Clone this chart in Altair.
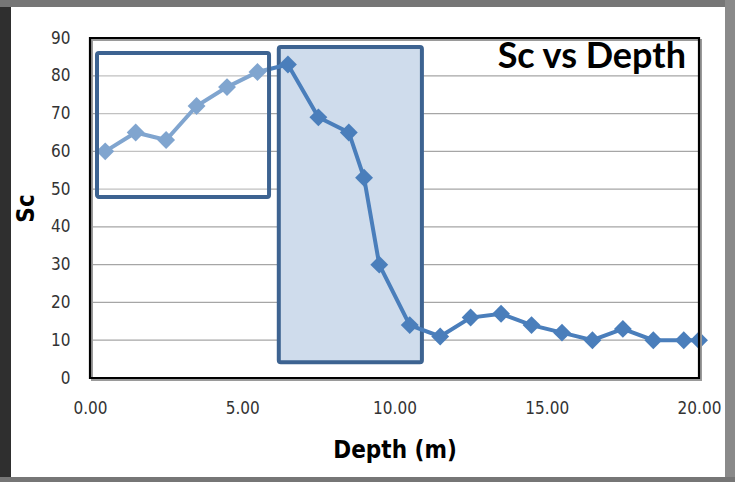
import altair as alt
import pandas as pd

depth = [0.5, 1.5, 2.5, 3.5, 4.5, 5.5, 6.5, 7.5, 8.5, 9.0, 9.5, 10.5,
         11.5, 12.5, 13.5, 14.5, 15.5, 16.5, 17.5, 18.5, 19.5, 20.0]
sc = [60, 65, 63, 72, 77, 81, 83, 69, 65, 53, 30, 14,
      11, 16, 17, 14, 12, 10, 13, 10, 10, 10]
grid_values = [10, 20, 30, 40, 50, 60, 70, 80]
x_ticks = [0, 5, 10, 15, 20]
y_ticks = [0, 10, 20, 30, 40, 50, 60, 70, 80, 90]
box1 = {"x": 0.23, "x2": 5.88, "y": 47.9, "y2": 86.0}
box2 = {"x": 6.2, "x2": 10.9, "y": 4.2, "y2": 87.6}

df = pd.DataFrame({"depth": depth, "sc": sc})
gdf = pd.DataFrame({"g": grid_values})
b1 = pd.DataFrame([box1])
b2 = pd.DataFrame([box2])

NARROW = "Liberation Sans Narrow, DejaVu Sans Condensed, sans-serif"
W, H = 609, 340
one = pd.DataFrame({"a": [0]})

xs = alt.Scale(domain=[0, 20], nice=False, zero=False)
ys = alt.Scale(domain=[0, 90], nice=False)

xaxis = alt.Axis(title="Depth (m)", values=x_ticks, format=".2f", labelFlush=False,
                 grid=False, ticks=False, domain=False, labelPadding=22, titlePadding=22,
                 labelFont=NARROW, labelFontSize=17, labelColor="#333333",
                 titleFont=NARROW, titleFontSize=24, titleFontWeight="bold",
                 titleColor="black")
yaxis = alt.Axis(title="Sc", values=y_ticks, labelFlush=False,
                 grid=False, ticks=False, domain=False, labelPadding=20, titlePadding=12,
                 labelFont=NARROW, labelFontSize=17, labelColor="#333333",
                 titleFont=NARROW, titleFontSize=24, titleFontWeight="bold",
                 titleColor="black")

# gray frame strips around the white sheet (kept clear of the axes)
frame_specs = [
    ("#2f2f2f", -90, -79, -38, H + 104),   # left
    ("#767676", -90, W + 36, -38, -31),     # top
    ("#8a8a8a", 635, W + 36, -38, H + 104), # right
    ("#767676", -90, W + 36, 439, H + 104), # bottom
]
frames = [
    alt.Chart(one).mark_rect(color=c).encode(
        x=alt.value(x1), x2=alt.value(x2), y=alt.value(y1), y2=alt.value(y2))
    for c, x1, x2, y1, y2 in frame_specs
]

grid = alt.Chart(gdf).mark_rule(color="#a6a6a6", strokeWidth=1.2).encode(
    y=alt.Y("g:Q", scale=ys, axis=yaxis))

rect2 = alt.Chart(b2).mark_rect(fill="#cfdcec", stroke="#3d6391", strokeWidth=4,
                                 cornerRadius=2).encode(
    x=alt.X("x:Q", scale=xs, axis=xaxis), x2="x2:Q",
    y=alt.Y("y:Q", scale=ys, axis=yaxis), y2="y2:Q")

line = alt.Chart(df).mark_line(color="#4a7ebb", strokeWidth=4).encode(
    x=alt.X("depth:Q", scale=xs, axis=xaxis),
    y=alt.Y("sc:Q", scale=ys, axis=yaxis))
pts = alt.Chart(df).mark_point(shape="diamond", filled=True, size=320,
                               color="#4a7ebb", opacity=1).encode(
    x=alt.X("depth:Q", scale=xs, axis=xaxis), y=alt.Y("sc:Q", scale=ys, axis=yaxis))

rect1 = alt.Chart(b1).mark_rect(fill="white", fillOpacity=0.3, stroke="#3d6391",
                                strokeWidth=4, cornerRadius=2).encode(
    x=alt.X("x:Q", scale=xs, axis=xaxis), x2="x2:Q",
    y=alt.Y("y:Q", scale=ys, axis=yaxis), y2="y2:Q")

shadow = alt.Chart(one).mark_rect(fill=None, filled=False, stroke="#9a9a9a", strokeWidth=2).encode(
    x=alt.value(2), x2=alt.value(W + 2), y=alt.value(2), y2=alt.value(H + 2))
border = alt.Chart(one).mark_rect(fill=None, filled=False, stroke="black", strokeWidth=2.2).encode(
    x=alt.value(0), x2=alt.value(W), y=alt.value(0), y2=alt.value(H))

title = alt.Chart(pd.DataFrame({"t": ["Sc vs Depth"]})).mark_text(
    align="right", baseline="alphabetic", font="Lato", fontWeight="bold",
    fontSize=36, color="black").encode(
    text="t:N", x=alt.value(596), y=alt.value(30))

chart = alt.layer(*frames, grid, rect2, line, pts, rect1, shadow, border, title).properties(
    width=W, height=H,
    autosize=alt.AutoSizeParams(type="none"),
    padding={"left": 90, "top": 38, "right": 36, "bottom": 104},
    background="white",
).configure_view(stroke=None)

chart.save("out.html", embed_options={"renderer": "svg", "actions": False})
